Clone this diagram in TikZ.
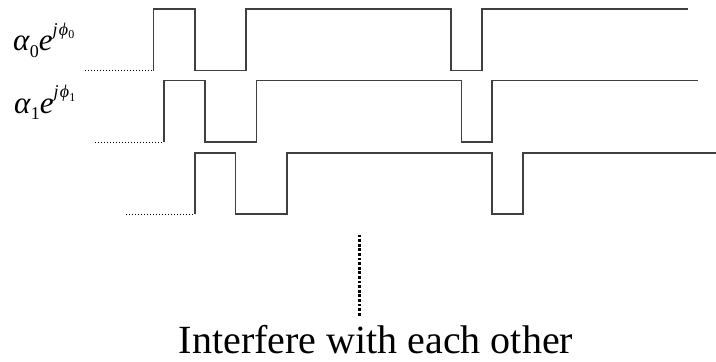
\documentclass[tikz,border=0pt]{standalone}
\usepackage{fontspec}
\setmainfont{Liberation Serif}
\newcommand{\phlbl}[1]{\textit{α}\raisebox{-0.22em}{\fontsize{18}{18}\selectfont #1}\textit{e}\raisebox{0.5em}{\fontsize{18}{18}\selectfont\textit{j\kern1.2pt ϕ}\raisebox{-0.2em}{\fontsize{12}{12}\selectfont #1}}}
\begin{document}
\begin{tikzpicture}[x=1pt,y=-1pt,
  sig/.style={draw=black!75,line width=1.3pt,line join=miter},
  lead/.style={draw=black,line width=1pt,dash pattern=on 1pt off 2pt},
  vdot/.style={fill=black},
  lbl/.style={font=\fontsize{31}{31}\selectfont,inner sep=0pt,anchor=base west},
  caption/.style={font=\fontsize{40}{40}\selectfont,inner sep=0pt,text depth=0pt,anchor=base}]
\useasboundingbox (0,0) rectangle (716,362);
% signal 0
\coordinate (s0a) at (85,70.5);
\coordinate (s0b) at (153.5,70.5);
\draw[lead] (s0a) -- (s0b);
\draw[sig] (s0b) -- (153.5,9) -- (195,9) -- (195,70.5) -- (246,70.5) -- (246,9) -- (451,9) -- (451,70.5) -- (482,70.5) -- (482,9) -- (688,9);
% signal 1
\coordinate (s1a) at (95,142);
\coordinate (s1b) at (164,142);
\draw[lead] (s1a) -- (s1b);
\draw[sig] (s1b) -- (164,80.5) -- (205,80.5) -- (205,142) -- (256.5,142) -- (256.5,80.5) -- (461.5,80.5) -- (461.5,142) -- (492,142) -- (492,80.5) -- (698,80.5);
% signal 2
\coordinate (s2a) at (126,214);
\coordinate (s2b) at (195,214);
\draw[lead] (s2a) -- (s2b);
\draw[sig] (s2b) -- (195,153) -- (235.5,153) -- (235.5,214) -- (287,214) -- (287,153) -- (492,153) -- (492,214) -- (523,214) -- (523,153) -- (716,153);
% labels
\node[lbl] (l0) at (13,50.7) {\phlbl{0}};
\node[lbl] (l1) at (14,113) {\phlbl{1}};
% vertical dots
\foreach \k in {0,...,17} {
  \pgfmathsetmacro{\yy}{234.5+4.6*\k}
  \path[vdot] (357.5,\yy) rectangle (360.8,\yy+2.9);
}
\node[caption] (cap) at (376,353.5) {Interfere with each other};
\end{tikzpicture}
\end{document}
